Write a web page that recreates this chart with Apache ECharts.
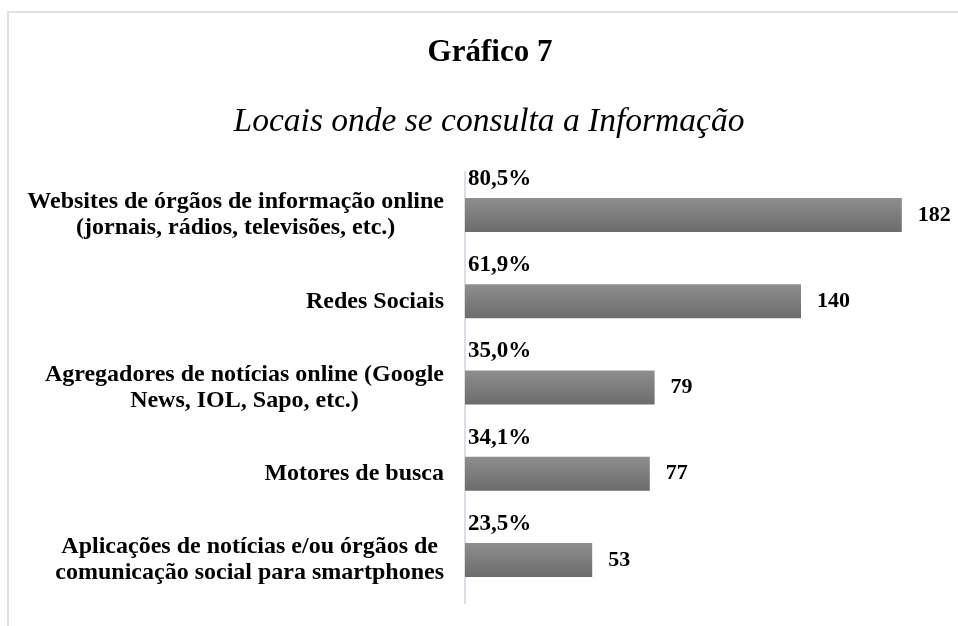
<!DOCTYPE html>
<html>
<head>
<meta charset="utf-8">
<script src="https://cdn.jsdelivr.net/npm/echarts@6/dist/echarts.min.js"></script>
<style>
  html, body { margin: 0; padding: 0; background: #fff; }
  #chart { width: 958px; height: 626px; }
</style>
</head>
<body>
<div id="chart"></div>
<script>
// data
const categories = [
    'Websites de órgãos de informação online\n(jornais, rádios, televisões, etc.)',
    'Redes Sociais',
    'Agregadores de notícias online (Google\nNews, IOL, Sapo, etc.)',
    'Motores de busca',
    'Aplicações de notícias e/ou órgãos de\ncomunicação social para smartphones'
];
const counts = [182, 140, 79, 77, 53];
const percents = ['80,5%', '61,9%', '35,0%', '34,1%', '23,5%'];

const font = 'Liberation Serif, Times New Roman, serif';

const chart = echarts.init(document.getElementById('chart'));

const barGradient = new echarts.graphic.LinearGradient(0, 0, 0, 1, [
    { offset: 0, color: '#8e8e8e' },
    { offset: 1, color: '#6c6c6c' }
]);

const option = {
    backgroundColor: '#fff',
    animation: false,
    graphic: [
        {
            type: 'rect',
            z: -1,
            shape: { x: 8, y: 12, width: 1000, height: 700 },
            style: { fill: 'none', stroke: '#dde2e9', lineWidth: 2 }
        }
    ],
    title: [
        {
            text: 'Gráfico 7',
            left: 485,
            top: 32,
            textAlign: 'center',
            textStyle: { fontFamily: font, fontSize: 31, fontWeight: 'bold', color: '#000' }
        },
        {
            text: 'Locais onde se consulta a Informação',
            left: 484,
            top: 100,
            textAlign: 'center',
            textStyle: { fontFamily: font, fontSize: 33.5, fontStyle: 'italic', fontWeight: 'normal', color: '#000' }
        }
    ],
    grid: {
        left: 465,
        top: 172,
        width: 480,
        height: 431,
        containLabel: false
    },
    xAxis: {
        type: 'value',
        min: 0,
        max: 200,
        show: false,
        splitLine: { show: false }
    },
    yAxis: {
        type: 'category',
        inverse: true,
        data: categories,
        axisTick: { show: false },
        axisLine: { lineStyle: { color: '#d9dfe7', width: 2 } },
        axisLabel: {
            align: 'right',
            margin: 21,
            // each line centred inside its right-aligned block
            formatter: function (value) {
                return value.split('\n').map(function (l) { return '{c|' + l + '}'; }).join('\n');
            },
            rich: {
                c: {
                    align: 'center',
                    fontFamily: font,
                    fontSize: 24,
                    fontWeight: 'bold',
                    lineHeight: 26,
                    color: '#000'
                }
            }
        }
    },
    series: [
        {
            name: 'Respostas',
            type: 'bar',
            data: counts,
            barWidth: 34,
            itemStyle: {
                color: barGradient
            },
            label: {
                show: true,
                position: 'right',
                distance: 16,
                fontFamily: font,
                fontSize: 22,
                fontWeight: 'bold',
                color: '#000'
            }
        },
        {
            name: 'Percentagem',
            type: 'bar',
            data: counts,
            barWidth: 34,
            barGap: '-100%',
            silent: true,
            itemStyle: { color: 'rgba(0,0,0,0)' },
            label: {
                show: true,
                position: 'insideLeft',
                distance: 3,
                offset: [0, -36],
                formatter: function (p) { return percents[p.dataIndex]; },
                fontFamily: font,
                fontSize: 23,
                fontWeight: 'bold',
                color: '#000'
            }
        }
    ]
};

chart.setOption(option);

window.addEventListener('resize', function () {
    chart.resize();
});
</script>
</body>
</html>
